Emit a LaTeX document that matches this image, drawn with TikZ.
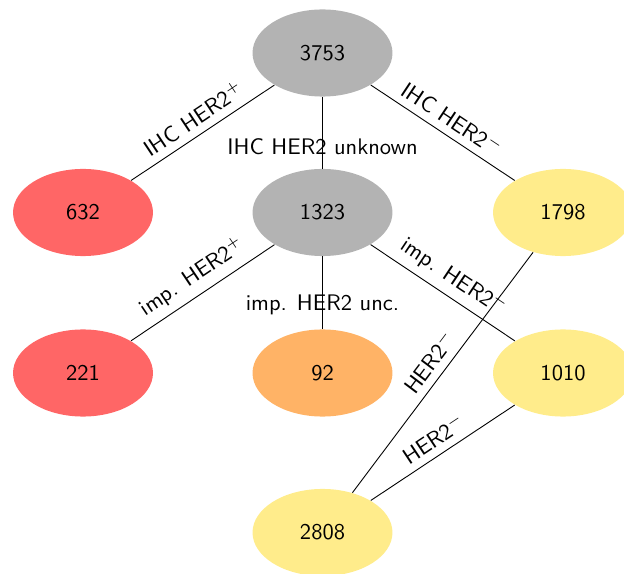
\documentclass[tikz,border=0pt]{standalone}
\usetikzlibrary{shapes.geometric}
\definecolor{cgray}{RGB}{179,179,179}
\definecolor{cred}{RGB}{255,102,102}
\definecolor{corange}{RGB}{255,179,102}
\definecolor{cyellow}{RGB}{255,236,139}
\begin{document}
\begin{tikzpicture}[x=0.4444pt,y=-0.4444pt,
  every node/.style={font=\sffamily},
  nd/.style={ellipse,minimum width=62.2pt,minimum height=38.7pt,inner sep=0pt},
  lab/.style={midway,above,sloped}]
\useasboundingbox (0,0) rectangle (624,574);
\node[nd,fill=cgray] (a) at (322.5,53) {3753};
\node[nd,fill=cred] (b) at (83,212.5) {632};
\node[nd,fill=cgray] (c) at (322.5,212.5) {1323};
\node[nd,fill=cyellow] (d) at (563,212.5) {1798};
\node[nd,fill=cred] (e) at (83,373) {221};
\node[nd,fill=corange] (f) at (322.5,373) {92};
\node[nd,fill=cyellow] (g) at (563,373) {1010};
\node[nd,fill=cyellow] (h) at (322.5,532.5) {2808};
\draw (a) -- node[lab]{IHC HER2$^+$} (b);
\draw (a) -- node[pos=0.697]{IHC HER2 unknown} (c);
\draw (a) -- node[lab]{IHC HER2$^-$} (d);
\draw (c) -- node[lab]{imp. HER2$^+$} (e);
\draw (c) -- node[pos=0.667]{imp. HER2 unc.} (f);
\draw (c) -- node[lab]{imp. HER2$^-$} (g);
\draw (d) -- node[lab]{HER2$^-$} (h);
\draw (g) -- node[lab]{HER2$^-$} (h);
\end{tikzpicture}
\end{document}
